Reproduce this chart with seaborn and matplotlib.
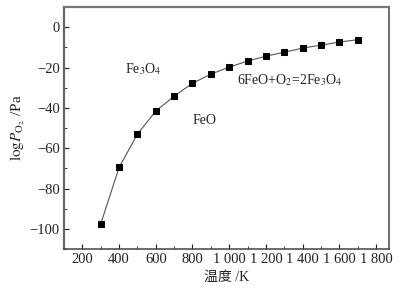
import numpy as np
import pandas as pd
import seaborn as sns
import matplotlib.pyplot as plt
from matplotlib.ticker import MultipleLocator, FuncFormatter

sns.set_style('ticks')
plt.rcParams['font.family'] = ['Liberation Serif', 'Noto Sans CJK SC']
plt.rcParams['mathtext.fontset'] = 'stix'

# data
temperature = [300, 400, 500, 600, 700, 800, 900, 1000, 1100, 1200,
               1300, 1400, 1500, 1600, 1700]
log_po2 = [-97.5, -69.5, -53, -41.6, -34.2, -27.8, -23.3, -19.8, -16.8,
           -14.4, -12.4, -10.4, -8.9, -7.4, -6.2]
xticks = [200, 400, 600, 800, 1000, 1200, 1400, 1600, 1800]
yticks = [0, -20, -40, -60, -80, -100]

df = pd.DataFrame({'T': temperature, 'logP': log_po2})

fig, ax = plt.subplots(figsize=(4.08, 2.92), dpi=100)
fig.subplots_adjust(left=0.157, right=0.953, top=0.976, bottom=0.147)

sns.lineplot(data=df, x='T', y='logP', ax=ax, color='#555555', linewidth=0.8,
             marker='s', markersize=4, markerfacecolor='black',
             markeredgecolor='black')

ax.set_xlim(100, 1870)
ax.set_ylim(-110, 10)
ax.set_xticks(xticks)
ax.set_yticks(yticks)
ax.xaxis.set_minor_locator(MultipleLocator(100))
ax.yaxis.set_minor_locator(MultipleLocator(10))
ax.xaxis.set_major_formatter(FuncFormatter(lambda v, p: f'{int(v):,}'.replace(',', ' ')))
ax.yaxis.set_major_formatter(FuncFormatter(lambda v, p: f'{int(v)}'.replace('-', '\u2212')))
ax.tick_params(which='both', direction='in', labelsize=10.5, colors='#222222', pad=3)
ax.tick_params(which='major', length=3.5, width=0.8)
ax.tick_params(which='minor', length=2, width=0.6)

for s in ax.spines.values():
    s.set_color('#444444')
    s.set_linewidth(1.1)
ax.spines['top'].set_color('#777777')
ax.spines['top'].set_linewidth(1.6)
ax.spines['left'].set_color('#666666')
ax.spines['left'].set_linewidth(1.6)

ax.set_xlabel('温度 /K', fontsize=10, color='#222222', labelpad=3)
ax.set_ylabel(r'$\mathrm{log}\mathit{P}_{\mathrm{O}_2}$ /Pa', fontsize=11,
              color='#222222', labelpad=2)

ax.text(530, -21, r'Fe$_3$O$_4$', fontsize=10, ha='center', va='center', color='#222222')
ax.text(866, -46.5, 'FeO', fontsize=10, ha='center', va='center', color='#222222')
ax.text(1330, -26, r'6FeO+O$_2$=2Fe$_3$O$_4$', fontsize=10, ha='center', va='center',
        color='#222222')

fig.savefig('out.png', dpi=100)
